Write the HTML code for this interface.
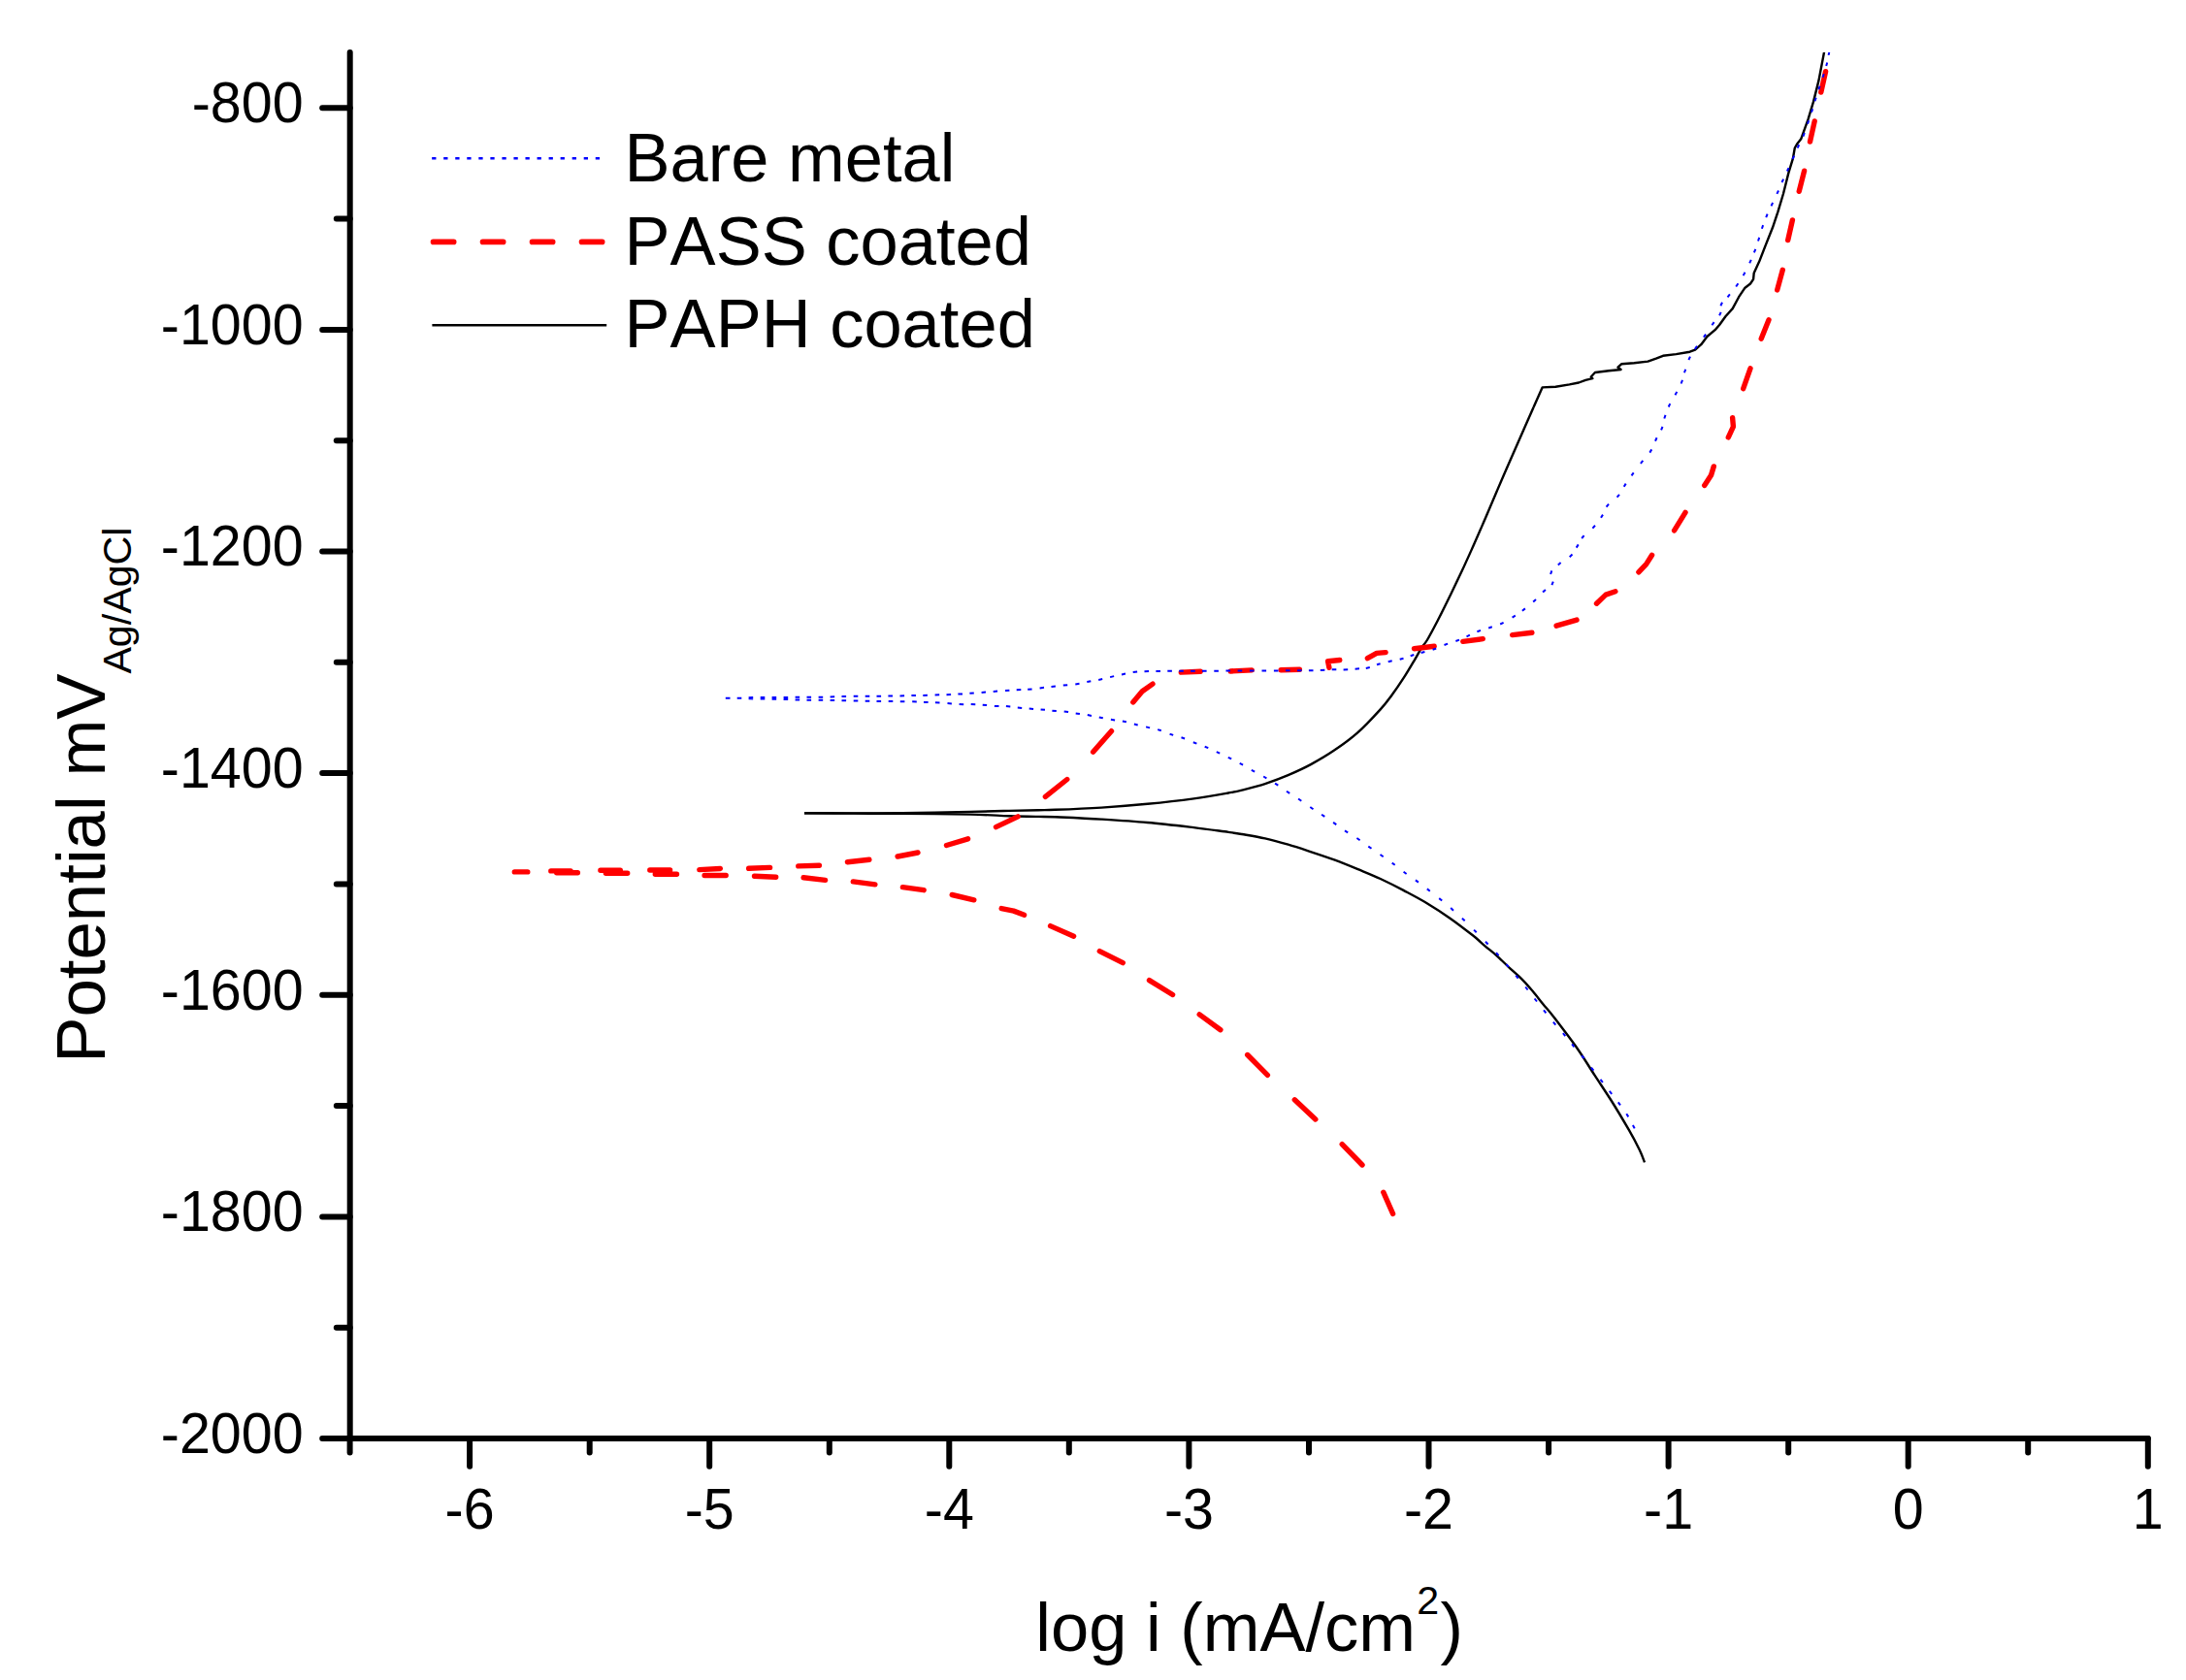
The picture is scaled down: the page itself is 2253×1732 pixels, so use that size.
<!DOCTYPE html>
<html lang="en"><head><meta charset="utf-8"><title>Polarization curves</title>
<style>
html,body{margin:0;padding:0;background:#fff}
body{width:2253px;height:1732px;overflow:hidden}
svg{display:block}
text{font-family:"Liberation Sans",sans-serif;fill:#000;font-kerning:none}
</style></head><body>
<svg width="2253" height="1732" viewBox="0 0 2253 1732">
<defs><clipPath id="c"><rect x="360" y="54" width="1860" height="1429"/></clipPath></defs>
<rect width="2253" height="1732" fill="#fff"/>
<g stroke="#000" stroke-width="6" stroke-linecap="round" fill="none">
<path d="M360.7 53.9V1483.0"/>
<path d="M360.7 1483.0H2213.8"/>
<path d="M332.2 1483.0H360.7"/>
<path d="M346.8 1368.7H360.7"/>
<path d="M332.2 1254.4H360.7"/>
<path d="M346.8 1140.1H360.7"/>
<path d="M332.2 1025.8H360.7"/>
<path d="M346.8 911.5H360.7"/>
<path d="M332.2 797.1H360.7"/>
<path d="M346.8 682.8H360.7"/>
<path d="M332.2 568.5H360.7"/>
<path d="M346.8 454.2H360.7"/>
<path d="M332.2 339.9H360.7"/>
<path d="M346.8 225.6H360.7"/>
<path d="M332.2 111.3H360.7"/>
<path d="M360.6 1483.0V1497.6"/>
<path d="M484.1 1483.0V1511.8"/>
<path d="M607.7 1483.0V1497.6"/>
<path d="M731.2 1483.0V1511.8"/>
<path d="M854.8 1483.0V1497.6"/>
<path d="M978.3 1483.0V1511.8"/>
<path d="M1101.8 1483.0V1497.6"/>
<path d="M1225.4 1483.0V1511.8"/>
<path d="M1349.0 1483.0V1497.6"/>
<path d="M1472.5 1483.0V1511.8"/>
<path d="M1596.1 1483.0V1497.6"/>
<path d="M1719.6 1483.0V1511.8"/>
<path d="M1843.2 1483.0V1497.6"/>
<path d="M1966.7 1483.0V1511.8"/>
<path d="M2090.2 1483.0V1497.6"/>
<path d="M2213.8 1483.0V1511.8"/>
</g>
<text font-size="57.4" text-anchor="end" transform="translate(312.6 1497.9) scale(1 1.04)">-2000</text>
<text font-size="57.4" text-anchor="end" transform="translate(312.6 1269.3) scale(1 1.04)">-1800</text>
<text font-size="57.4" text-anchor="end" transform="translate(312.6 1040.7) scale(1 1.04)">-1600</text>
<text font-size="57.4" text-anchor="end" transform="translate(312.6 812.0) scale(1 1.04)">-1400</text>
<text font-size="57.4" text-anchor="end" transform="translate(312.6 583.4) scale(1 1.04)">-1200</text>
<text font-size="57.4" text-anchor="end" transform="translate(312.6 354.8) scale(1 1.04)">-1000</text>
<text font-size="57.4" text-anchor="end" transform="translate(312.6 126.2) scale(1 1.04)">-800</text>
<text font-size="57.4" text-anchor="middle" transform="translate(484.1 1575.8) scale(1 1.04)">-6</text>
<text font-size="57.4" text-anchor="middle" transform="translate(731.2 1575.8) scale(1 1.04)">-5</text>
<text font-size="57.4" text-anchor="middle" transform="translate(978.3 1575.8) scale(1 1.04)">-4</text>
<text font-size="57.4" text-anchor="middle" transform="translate(1225.4 1575.8) scale(1 1.04)">-3</text>
<text font-size="57.4" text-anchor="middle" transform="translate(1472.5 1575.8) scale(1 1.04)">-2</text>
<text font-size="57.4" text-anchor="middle" transform="translate(1719.6 1575.8) scale(1 1.04)">-1</text>
<text font-size="57.4" text-anchor="middle" transform="translate(1966.7 1575.8) scale(1 1.04)">0</text>
<text font-size="57.4" text-anchor="middle" transform="translate(2213.8 1575.8) scale(1 1.04)">1</text>
<text font-size="70.5" x="1067.3" y="1701.8">log i (mA/cm<tspan font-size="41.2" x="1460.2" y="1664">2</tspan><tspan x="1484.6" y="1701.8">)</tspan></text>
<text font-size="70.8" transform="translate(107.9 1095.8) rotate(-90)">Potential mV<tspan font-size="41.2" x="401.2" y="26.9">Ag/AgCl</tspan></text>
<path d="M445.15 163.3H449.45M457.19 163.3H461.49M469.24 163.3H473.54M481.28 163.3H485.58M493.32 163.3H497.62M505.37 163.3H509.66M517.41 163.3H521.71M529.45 163.3H533.75M541.49 163.3H545.79M553.54 163.3H557.84M565.58 163.3H569.88M577.62 163.3H581.92M589.67 163.3H593.97M601.71 163.3H606.01M613.75 163.3H618.05" stroke="#00f" stroke-width="2.5" fill="none"/>
<path d="M446.5 249.4H620.7" stroke="#f00" stroke-width="5.6" stroke-linecap="round" stroke-dasharray="21.2 29.8" fill="none"/>
<path d="M445.4 335.2H625.2" stroke="#000" stroke-width="2.4" fill="none"/>
<g font-size="70.5">
<text x="643.6" y="187.2">Bare metal</text>
<text x="643.6" y="273.2">PASS coated</text>
<text x="643.6" y="358.4">PAPH coated</text>
</g>
<g clip-path="url(#c)" fill="none">
<g stroke="#000" stroke-width="2.4" stroke-linejoin="round">
<path d="M829.0 838.3C837.5 838.3 863.2 838.4 880.0 838.4C896.8 838.4 910.0 838.5 930.0 838.3C950.0 838.0 982.0 837.3 1000.3 836.9C1018.6 836.5 1028.4 836.2 1040.0 835.9C1051.6 835.6 1062.1 835.4 1070.0 835.2C1077.9 835.0 1076.8 835.2 1087.6 834.8C1098.4 834.4 1119.2 833.6 1135.1 832.6C1150.9 831.6 1166.8 830.3 1182.7 828.8C1198.6 827.3 1216.4 825.3 1230.3 823.4C1244.2 821.5 1257.7 819.0 1266.0 817.5C1274.3 816.0 1273.7 816.2 1280.0 814.6C1286.3 813.0 1295.9 810.7 1303.8 808.1C1311.7 805.5 1319.7 802.6 1327.6 799.2C1335.5 795.8 1343.5 792.2 1351.4 787.9C1359.3 783.6 1367.2 779.0 1375.1 773.6C1383.0 768.2 1391.0 762.7 1398.9 755.7C1406.8 748.7 1416.8 737.9 1422.7 731.4C1428.7 724.9 1430.6 721.9 1434.6 716.5C1438.6 711.1 1442.5 705.4 1446.5 699.2C1450.5 693.1 1455.2 685.0 1458.4 679.6C1461.6 674.2 1463.4 670.4 1465.5 667.1C1467.6 663.8 1467.8 665.0 1470.8 660.0C1473.8 655.0 1479.2 644.6 1483.3 636.8C1487.3 629.0 1491.1 621.1 1495.1 613.0C1499.0 604.9 1503.0 596.5 1507.0 588.0C1511.0 579.5 1514.9 570.7 1518.9 561.8C1522.9 552.9 1526.8 543.7 1530.8 534.5C1534.8 525.3 1538.7 515.9 1542.7 506.5C1546.7 497.1 1550.4 488.4 1554.9 478.2C1559.4 467.9 1565.2 454.7 1569.5 445.0C1573.8 435.3 1578.7 424.2 1580.5 420.1"/>
<path d="M1580.5 420.1L1589.6 399.4L1603.3 398.7L1617.6 396.4L1627.1 394.5L1634.2 391.8L1641.4 390.2L1639.8 388.5L1643.9 384.0L1658.0 382.3L1670.6 381.0L1667.5 378.7L1671.1 375.3L1684.2 374.2L1698.4 372.6L1706.8 369.6L1714.0 366.8L1727.5 365.1L1741.6 362.7L1747.1 360.7L1753.3 355.2L1759.4 347.0L1767.6 340.2L1772.3 334.8L1778.4 326.3L1785.7 318.1L1792.1 306.2L1798.5 296.7L1804.0 292.5L1807.1 287.9L1807.7 281.5L1813.2 269.6L1819.6 253.1L1826.9 234.8L1832.4 218.3L1837.9 200.0L1843.4 178.1L1847.9 163.4L1849.8 152.5L1852.5 147.9L1856.2 143.3L1863.5 123.2L1869.0 104.9L1874.5 82.9L1880.0 54.0L1881.0 48.0"/>
<path d="M829.0 838.3C837.5 838.3 863.2 838.5 880.0 838.6C896.8 838.7 910.0 838.7 930.0 838.9C950.0 839.1 982.0 839.2 1000.3 839.6C1018.6 840.0 1028.4 840.9 1040.0 841.3C1051.6 841.7 1062.1 841.8 1070.0 841.9C1077.9 842.0 1076.8 841.8 1087.6 842.2C1098.4 842.7 1119.2 843.6 1135.1 844.6C1150.9 845.6 1166.8 846.6 1182.7 848.0C1198.6 849.4 1216.4 851.5 1230.3 853.1C1244.2 854.8 1257.7 856.8 1266.0 857.9C1274.3 859.0 1273.7 858.9 1280.0 860.0C1286.3 861.1 1295.9 862.6 1303.8 864.4C1311.7 866.2 1319.7 868.4 1327.6 870.7C1335.5 873.0 1343.5 875.7 1351.4 878.3C1359.3 880.9 1367.2 883.5 1375.1 886.4C1383.0 889.3 1391.0 892.6 1398.9 895.9C1406.8 899.2 1414.8 902.3 1422.7 906.0C1430.6 909.7 1438.6 913.7 1446.5 917.9C1454.4 922.1 1462.4 926.2 1470.3 931.0C1478.2 935.8 1486.2 940.9 1494.1 946.4C1502.0 951.9 1511.9 959.6 1517.9 964.3C1523.9 969.0 1525.8 971.2 1530.0 974.8C1534.2 978.4 1538.8 981.9 1543.2 985.8C1547.6 989.7 1552.1 994.5 1556.3 998.4C1560.5 1002.3 1564.6 1005.5 1568.4 1009.4C1572.2 1013.2 1575.7 1017.2 1579.4 1021.5C1583.1 1025.8 1586.7 1030.7 1590.4 1035.2C1594.1 1039.8 1595.8 1041.2 1601.6 1048.8C1607.4 1056.4 1618.5 1070.8 1625.5 1080.7C1632.5 1090.6 1637.3 1099.0 1643.3 1108.1C1649.2 1117.2 1655.2 1126.0 1661.2 1135.5C1667.2 1145.0 1674.2 1156.9 1679.0 1165.2C1683.8 1173.5 1687.1 1180.0 1689.8 1185.5C1692.5 1191.0 1694.1 1196.2 1695.0 1198.4"/>
</g>
<path stroke="#f00" stroke-width="5.4" stroke-linecap="round" stroke-linejoin="round" d="M530.3 898.9L543.8 898.9M567.8 897.9L588.1 897.9M618.9 897.2L639.3 897.2M669.8 897.0L690.6 897.0M720.8 896.6L742.4 895.5M771.7 895.3L793.6 894.4M822.8 892.9L844.4 892.2M873.4 888.8L895.9 886.2M925.1 883.0L946.0 879.0M975.5 871.5L997.6 864.8M1026.5 852.6L1049.1 841.9M1077.4 821.4L1099.8 803.5M1126.6 775.2L1145.5 753.7M1167.8 724.0L1177.2 712.8L1188.0 705.1M1217.3 693.1L1237.2 692.2M1268.2 692.0L1290.3 690.9M1320.2 690.8L1339.4 690.3M1369.9 688.3L1368.6 681.7L1380.8 680.5M1409.4 678.7L1418.9 673.4L1428.1 672.6M1457.5 668.7L1478.2 666.3M1507.8 661.4L1528.3 658.6M1558.7 654.6L1578.9 652.2M1604.1 645.2L1625.0 639.1M1645.5 622.2L1655.0 613.1L1664.9 609.8M1688.9 589.8L1696.7 581.6L1702.6 572.3M1725.6 546.9L1737.0 528.4M1756.7 500.4L1763.5 490.1L1766.3 480.9M1781.3 450.9L1786.4 439.8L1785.6 430.6M1796.7 400.6L1804.0 379.8M1815.2 349.3L1823.0 329.8M1831.7 298.9L1837.3 278.3M1842.7 247.6L1847.4 226.9M1854.2 197.3L1859.6 176.2M1865.5 146.1L1870.2 125.0M1876.8 95.1L1881.6 73.7M573.7 899.8L595.4 899.8M624.4 900.3L646.7 900.3M675.3 901.2L697.5 901.2M726.1 902.5L748.2 902.5M777.5 903.2L799.7 904.2M828.1 904.7L850.6 907.4M879.3 908.9L901.9 911.9M930.4 914.7L952.2 917.7M981.2 922.5L1003.8 927.8M1032.2 936.6L1044.7 939.1L1055.6 943.2M1082.6 954.6L1106.6 965.2M1133.3 980.6L1157.3 992.6M1184.5 1010.6L1208.6 1025.5M1236.2 1045.9L1257.9 1061.7M1285.7 1087.5L1306.4 1108.3M1334.3 1133.8L1355.8 1154.0M1383.2 1179.6L1404.0 1201.0M1425.8 1229.2L1435.6 1251.4"/>
<path stroke="#00f" stroke-width="2.0" d="M747.8 719.7L752.5 719.7M759.7 719.7L764.3 719.7M771.6 719.3L776.2 719.1M783.7 719.1L788.3 719.1M795.6 719.0L800.2 719.0M807.6 718.9L812.2 718.9M819.6 718.8L824.2 718.8M831.5 718.8L836.1 718.8M843.6 718.7L848.2 718.7M855.6 718.4L860.2 718.2M867.5 718.0L872.1 718.0M879.7 717.8L884.3 717.8M891.7 717.7L896.3 717.7M903.5 717.7L908.1 717.7M915.4 717.6L920.0 717.6M927.5 717.5L932.1 717.3M939.4 717.1L944.0 716.9M951.3 716.9L955.9 716.7M963.6 716.5L968.2 716.3M975.5 716.2L980.1 716.0M987.4 715.6L992.0 715.4M999.4 714.8L1003.8 714.4M1011.6 713.9L1016.0 713.5M1023.7 713.0L1028.1 712.6M1036.0 712.1L1040.4 711.7M1047.7 711.2L1052.3 711.0M1059.2 710.8L1063.6 710.4M1071.6 709.4L1076.0 708.8M1083.5 707.9L1087.9 707.5M1095.8 706.6L1100.2 706.2M1108.3 705.4L1112.5 704.8M1120.3 703.1L1124.3 702.3M1132.2 700.9L1136.2 700.1M1144.1 698.1L1148.1 697.1M1156.0 695.4L1160.0 694.6M1167.7 693.0L1172.1 692.4M1179.5 692.2L1184.1 692.0M1191.4 691.9L1196.0 691.9M1203.3 691.8L1207.9 691.8M1215.2 691.7L1219.8 691.7M1227.1 691.7L1231.8 691.7M1239.0 691.7L1243.6 691.7M1251.3 691.7L1255.9 691.7M1263.5 691.6L1268.1 691.6M1275.6 691.4L1280.2 691.4M1287.9 691.4L1292.5 691.4M1300.5 691.4L1305.1 691.4M1312.9 691.4L1317.5 691.4M1325.0 691.2L1329.6 691.2M1337.0 691.2L1341.6 691.2M1348.9 691.2L1353.5 691.2M1360.8 690.9L1365.4 690.7M1372.7 690.3L1377.3 690.3M1384.6 690.4L1389.2 690.2M1396.6 689.7L1401.0 689.3M1407.8 688.9L1411.8 688.1M1419.0 685.3L1422.6 684.3M1430.7 682.2L1434.7 681.2M1442.7 679.8L1446.5 678.8M1453.7 676.2L1457.3 675.0M1464.6 673.0L1468.4 672.0M1476.6 669.8L1480.2 668.6M1488.5 665.0L1492.1 663.6M1500.4 661.0L1504.0 659.6M1511.5 656.3L1514.9 654.7M1522.4 651.3L1526.0 649.9M1534.2 647.5L1537.8 646.3M1546.2 643.5L1549.6 641.9M1558.6 636.6L1561.8 634.6M1568.9 629.8L1571.9 627.4M1580.2 620.6L1583.0 618.0M1590.1 610.6L1592.9 608.0M1599.4 603.2L1600.8 599.6M1598.1 592.0L1599.3 588.4M1605.8 582.5L1608.6 580.1M1617.7 574.2L1620.5 571.6M1624.7 564.6L1626.7 561.4M1630.2 555.0L1632.6 552.2M1641.4 544.6L1644.0 541.8M1650.0 533.8L1652.0 530.6M1655.6 522.7L1658.0 519.7M1666.6 512.6L1669.0 509.8M1673.7 501.8L1675.7 498.6M1681.5 490.3L1683.7 487.3M1690.9 477.9L1693.3 474.9M1700.3 466.6L1702.3 463.4M1706.0 454.7L1707.6 451.3M1712.1 443.4L1713.5 439.8M1715.3 431.5L1716.5 427.9M1719.7 419.5L1721.3 416.1M1726.5 407.3L1728.3 403.9M1732.6 395.5L1734.0 391.9M1736.0 384.3L1737.2 380.7M1740.4 371.0L1742.0 367.6M1746.8 360.0L1749.0 356.8M1755.9 347.6L1758.1 344.6M1764.4 335.3L1766.6 332.1M1772.1 325.3L1773.7 321.9M1773.4 315.2L1775.0 311.8M1780.5 306.4L1782.9 303.4M1789.2 295.5L1791.4 292.3M1796.7 284.1L1798.5 280.7M1803.2 271.3L1804.8 267.9M1807.9 260.4L1809.3 256.8M1812.0 248.5L1813.2 244.9M1815.9 235.7L1817.1 232.1M1820.2 224.2L1821.6 220.6M1825.5 212.4L1827.1 209.0M1831.4 199.9L1833.0 196.5M1836.5 188.0L1838.1 184.6M1841.9 176.5L1843.5 173.1M1847.5 164.0L1849.1 160.6M1852.6 152.6L1854.2 149.2M1858.4 140.6L1859.8 137.0M1863.0 127.8L1864.2 124.2M1867.0 115.8L1868.2 112.2M1870.5 104.3L1871.7 100.7M1874.4 92.3L1875.6 88.7M1878.6 79.8L1879.8 76.2M1882.2 68.0L1883.2 64.4M1884.6 56.9L1885.4 53.1M771.6 720.3L776.2 720.5M783.7 720.6L788.3 720.6M795.6 720.8L800.2 720.8M807.6 720.9L812.2 721.1M819.6 721.4L824.2 721.6M831.5 721.7L836.1 721.7M843.6 721.8L848.2 721.8M855.6 722.0L860.2 722.0M867.5 722.3L872.1 722.3M879.7 722.5L884.3 722.5M891.7 722.7L896.3 722.7M903.5 722.9L908.1 722.9M915.7 722.9L920.3 722.9M927.8 723.2L932.4 723.2M940.2 723.3L944.8 723.5M952.0 723.9L956.6 724.1M963.9 724.2L968.5 724.4M976.5 725.0L980.9 725.4M988.6 726.0L993.2 726.2M1000.7 726.0L1005.3 726.2M1012.7 726.7L1017.1 727.1M1024.9 727.9L1029.5 728.1M1036.9 728.1L1041.3 728.5M1048.8 729.6L1053.2 730.0M1060.7 730.5L1065.1 730.9M1072.6 731.4L1077.0 731.8M1084.4 732.7L1088.8 733.1M1096.7 733.5L1101.1 734.1M1108.7 735.4L1112.9 736.0M1120.8 737.1L1125.0 737.9M1132.8 739.5L1136.8 740.3M1144.9 741.8L1149.1 742.4M1156.9 743.5L1160.9 744.3M1168.9 746.5L1172.7 747.5M1181.1 749.4L1185.1 750.4M1193.2 752.1L1196.8 753.3M1205.6 756.7L1209.2 757.9M1217.5 760.3L1221.1 761.5M1229.8 765.2L1233.4 766.6M1241.7 769.7L1245.3 771.1M1253.8 775.1L1257.2 776.7M1265.8 780.8L1269.2 782.4M1277.7 786.9L1281.1 788.7M1289.8 793.8L1293.2 795.6M1302.2 800.5L1305.4 802.3M1314.1 807.6L1317.3 809.6M1326.0 815.7L1329.2 817.9M1338.1 823.5L1341.3 825.7M1350.3 832.0L1353.5 834.2M1362.1 839.7L1365.3 841.9M1374.1 847.9L1377.3 850.1M1386.0 856.3L1389.2 858.3M1398.4 864.0L1401.6 866.2M1410.3 872.6L1413.5 874.8M1422.5 881.0L1425.7 883.2M1434.7 889.6L1437.7 891.8M1446.6 898.8L1449.6 901.0M1458.9 907.4L1461.9 909.6M1470.8 916.4L1473.8 918.8M1483.2 926.1L1486.2 928.5M1495.2 936.1L1498.0 938.7M1506.9 946.7L1509.7 949.3M1519.1 958.6L1521.7 961.2M1531.0 970.7L1533.6 973.5M1542.0 982.3L1544.6 985.1M1552.5 994.1L1554.9 996.9M1562.3 1005.7L1564.7 1008.7M1572.2 1017.5L1574.6 1020.5M1581.6 1029.5L1584.0 1032.5M1591.0 1041.4L1593.4 1044.4M1600.9 1053.6L1603.3 1056.6M1610.9 1065.2L1613.3 1068.2M1620.1 1076.4L1622.5 1079.4M1630.2 1088.1L1632.6 1091.1M1640.0 1100.6L1642.4 1103.6M1649.5 1112.9L1651.9 1115.9M1658.8 1124.8L1661.2 1127.8M1667.8 1136.4L1670.0 1139.4M1676.3 1148.2L1678.3 1151.4M1682.9 1160.0L1684.7 1163.4"/>
</g>
</svg>
</body></html>
